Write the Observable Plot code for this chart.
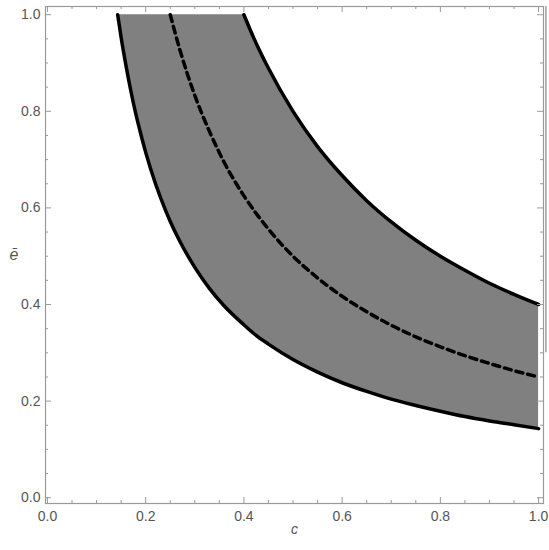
<!DOCTYPE html>
<html>
<head>
<meta charset="utf-8">
<script src="https://cdn.jsdelivr.net/npm/d3@7"></script>
<script src="https://cdn.jsdelivr.net/npm/@observablehq/plot@0.6"></script>
<style>
  html, body { margin: 0; padding: 0; background: #fff; }
  #chart { width: 549px; height: 550px; }
</style>
</head>
<body>
<div id="chart"></div>
<script>
// Band x values (shared by lower bound and band top)
const bandX   = [0.143,0.15,0.16,0.17,0.18,0.19,0.2,0.22,0.24,0.25,0.27,0.3,0.33,0.36,0.4,0.42,0.45,0.5,0.55,0.6,0.65,0.7,0.75,0.8,0.85,0.9,0.95,1.0];
const lowerY  = [1.0,0.953,0.894,0.841,0.794,0.753,0.715,0.650,0.596,0.572,0.530,0.477,0.433,0.397,0.358,0.340,0.318,0.286,0.260,0.238,0.220,0.204,0.191,0.179,0.168,0.159,0.151,0.143];
const bandTop = [1.0,1.0,1.0,1.0,1.0,1.0,1.0,1.0,1.0,1.0,1.0,1.0,1.0,1.0,1.0,0.952,0.889,0.8,0.727,0.667,0.615,0.571,0.533,0.5,0.471,0.444,0.421,0.4];

// Upper solid curve
const upperX = [0.4,0.42,0.45,0.5,0.55,0.6,0.65,0.7,0.75,0.8,0.85,0.9,0.95,1.0];
const upperY = [1.0,0.952,0.889,0.8,0.727,0.667,0.615,0.571,0.533,0.5,0.471,0.444,0.421,0.4];

// Middle dashed curve
const midX = [0.25,0.27,0.3,0.33,0.36,0.4,0.45,0.5,0.55,0.6,0.65,0.7,0.75,0.8,0.85,0.9,0.95,1.0];
const midY = [1.0,0.926,0.833,0.758,0.694,0.625,0.556,0.5,0.455,0.417,0.385,0.357,0.333,0.3125,0.294,0.278,0.263,0.25];

// Ticks
const majorTicks = [0, 0.2, 0.4, 0.6, 0.8, 1.0];
const minorTicks = [0.05,0.1,0.15,0.25,0.3,0.35,0.45,0.5,0.55,0.65,0.7,0.75,0.85,0.9,0.95];
const tickLabels = ["0.0","0.2","0.4","0.6","0.8","1.0"];

const xDomain = [-0.004, 1.01];
const yDomain = [-0.012, 1.017];

// stray frame line on the right edge
const strayLine = [{x: 1.015, y1: 0.3, y2: 1.017}];

const band = bandX.map((x, i) => ({x, lo: lowerY[i], hi: bandTop[i]}));
const lower = bandX.map((x, i) => ({x, y: lowerY[i]}));
const upper = upperX.map((x, i) => ({x, y: upperY[i]}));
const mid = midX.map((x, i) => ({x, y: midY[i]}));

const frameColor = "#9a9a9a";
const labelColor = "#555";
const fmt = d => tickLabels[majorTicks.indexOf(d)];

const chart = Plot.plot({
  width: 549,
  height: 550,
  marginLeft: 45,
  marginRight: 6,
  marginTop: 6,
  marginBottom: 47,
  style: {fontFamily: "'Liberation Sans', Arial, sans-serif", fontSize: "14px", color: labelColor, background: "#fff"},
  x: {domain: xDomain},
  y: {domain: yDomain},
  marks: [
    Plot.areaY(band, {x: "x", y1: "lo", y2: "hi", fill: "#808080", curve: "monotone-x"}),
    Plot.line(lower, {x: "x", y: "y", stroke: "#000", strokeWidth: 3.5, curve: "monotone-x"}),
    Plot.line(upper, {x: "x", y: "y", stroke: "#000", strokeWidth: 3.5, curve: "monotone-x"}),
    Plot.line(mid, {x: "x", y: "y", stroke: "#000", strokeWidth: 3.5, strokeDasharray: "7,5", curve: "monotone-x"}),
    Plot.frame({stroke: frameColor, strokeWidth: 1.2}),
    // inward ticks: bottom
    Plot.ruleX(majorTicks, {x: d => d, y1: yDomain[0], y2: yDomain[0], insetTop: -6, stroke: frameColor}),
    Plot.ruleX(minorTicks, {x: d => d, y1: yDomain[0], y2: yDomain[0], insetTop: -3, stroke: frameColor}),
    // top
    Plot.ruleX(majorTicks, {x: d => d, y1: yDomain[1], y2: yDomain[1], insetBottom: -6, stroke: frameColor}),
    Plot.ruleX(minorTicks, {x: d => d, y1: yDomain[1], y2: yDomain[1], insetBottom: -3, stroke: frameColor}),
    // left
    Plot.ruleY(majorTicks, {y: d => d, x1: xDomain[0], x2: xDomain[0], insetRight: -6, stroke: frameColor}),
    Plot.ruleY(minorTicks, {y: d => d, x1: xDomain[0], x2: xDomain[0], insetRight: -3, stroke: frameColor}),
    // right
    Plot.ruleY(majorTicks, {y: d => d, x1: xDomain[1], x2: xDomain[1], insetLeft: -6, stroke: frameColor}),
    Plot.ruleY(minorTicks, {y: d => d, x1: xDomain[1], x2: xDomain[1], insetLeft: -3, stroke: frameColor}),
    Plot.ruleX(strayLine, {x: "x", y1: "y1", y2: "y2", stroke: "#888", strokeWidth: 1.2}),
    Plot.axisX(majorTicks, {tickSize: 0, tickPadding: 8, tickFormat: fmt, fill: labelColor, fontSize: 14, label: null}),
    Plot.axisY(majorTicks, {tickSize: 0, tickPadding: 5, tickFormat: fmt, fill: labelColor, fontSize: 14, label: null}),
    Plot.text(["c"], {frameAnchor: "bottom", dy: 30, fontStyle: "italic", fill: labelColor, fontSize: 14}),
    Plot.text(["ē"], {frameAnchor: "left", dx: -36, fontStyle: "italic", fill: labelColor, fontSize: 16})
  ]
});
document.getElementById("chart").append(chart);
</script>
</body>
</html>
